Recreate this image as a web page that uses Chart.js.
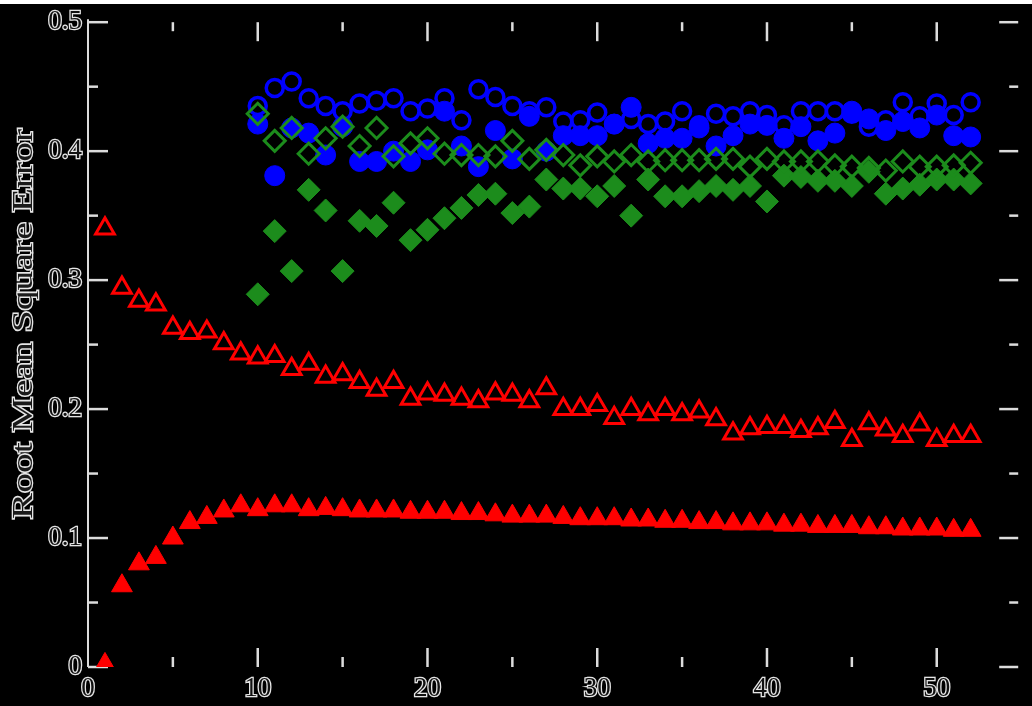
<!DOCTYPE html>
<html><head><meta charset="utf-8">
<script src="https://cdn.jsdelivr.net/npm/chart.js@4"></script>
<style>html,body{margin:0;padding:0;background:#000;overflow:hidden}</style>
</head><body>
<canvas id="c" width="1032" height="706" style="display:block;width:1032px;height:706px"></canvas>
<script>
// ---------- data ----------
const xAll = [1,2,3,4,5,6,7,8,9,10,11,12,13,14,15,16,17,18,19,20,21,22,23,24,25,26,27,28,29,30,31,32,33,34,35,36,37,38,39,40,41,42,43,44,45,46,47,48,49,50,51,52];
const xLate = [10,11,12,13,14,15,16,17,18,19,20,21,22,23,24,25,26,27,28,29,30,31,32,33,34,35,36,37,38,39,40,41,42,43,44,45,46,47,48,49,50,51,52];

const redOpen = [0.340,0.294,0.284,0.281,0.263,0.259,0.260,0.251,0.243,0.240,0.241,0.231,0.235,0.225,0.227,0.221,0.215,0.221,0.208,0.212,0.211,0.208,0.206,0.212,0.211,0.206,0.216,0.200,0.200,0.203,0.193,0.200,0.196,0.200,0.196,0.198,0.192,0.181,0.185,0.186,0.186,0.183,0.185,0.190,0.176,0.189,0.184,0.179,0.188,0.176,0.179,0.179];
const redFilled = [0.002,0.063,0.080,0.085,0.100,0.112,0.116,0.121,0.125,0.122,0.125,0.125,0.122,0.123,0.122,0.121,0.121,0.121,0.120,0.120,0.120,0.119,0.119,0.118,0.117,0.117,0.117,0.116,0.115,0.115,0.115,0.114,0.114,0.113,0.113,0.112,0.112,0.111,0.111,0.111,0.110,0.110,0.109,0.109,0.109,0.108,0.108,0.107,0.107,0.107,0.106,0.106];
const blueOpen = [0.435,0.449,0.454,0.441,0.435,0.431,0.437,0.439,0.441,0.431,0.433,0.441,0.424,0.448,0.442,0.435,0.431,0.434,0.423,0.424,0.430,0.421,0.425,0.421,0.423,0.431,0.420,0.429,0.427,0.431,0.428,0.420,0.431,0.431,0.431,0.429,0.419,0.424,0.438,0.427,0.437,0.428,0.438];
const blueFilled = [0.421,0.381,0.418,0.414,0.397,0.419,0.392,0.392,0.400,0.392,0.401,0.431,0.404,0.388,0.416,0.394,0.427,0.400,0.412,0.412,0.412,0.421,0.434,0.406,0.410,0.410,0.418,0.404,0.412,0.421,0.420,0.410,0.419,0.408,0.414,0.431,0.425,0.416,0.423,0.418,0.428,0.412,0.411];
const greenOpen = [0.429,0.408,0.418,0.398,0.410,0.419,0.404,0.418,0.396,0.406,0.410,0.398,0.397,0.397,0.396,0.408,0.394,0.401,0.397,0.389,0.396,0.392,0.397,0.392,0.393,0.393,0.393,0.394,0.394,0.388,0.394,0.392,0.392,0.392,0.389,0.388,0.387,0.385,0.392,0.388,0.388,0.389,0.391];
const greenFilled = [0.289,0.338,0.307,0.370,0.354,0.307,0.346,0.342,0.360,0.331,0.339,0.348,0.356,0.366,0.367,0.352,0.357,0.378,0.371,0.371,0.365,0.373,0.350,0.378,0.365,0.365,0.369,0.373,0.370,0.373,0.361,0.381,0.380,0.377,0.377,0.373,0.384,0.367,0.371,0.374,0.378,0.378,0.375];

const yTitle = 'Root Mean Square Error';
const xTickValues = [0,10,20,30,40,50];
const xTickLabels = ['0','10','20','30','40','50'];
const xMinorTickValues = [5,15,25,35,45];
const yTickValues = [0,0.1,0.2,0.3,0.4,0.5];
const yTickLabels = ['0','0.1','0.2','0.3','0.4','0.5'];
const yMinorTickValues = [0.05,0.15,0.25,0.35,0.45];

// ---------- helpers ----------
const pts = (xs, ys) => xs.map((x, i) => ({x: x, y: ys[i]}));
const tickFont = {family: 'Liberation Serif', size: 27};
const AXIS_COL = '#dcdcdc';

const framePlugin = {
  id: 'frame',
  beforeDraw(chart) {
    const ctx = chart.ctx;
    ctx.save();
    ctx.fillStyle = '#000';
    ctx.fillRect(0, 0, chart.width, chart.height);
    ctx.fillStyle = '#fff';
    ctx.fillRect(0, 0, chart.width, 4);
    ctx.restore();
  },
  beforeDatasetsDraw(chart) {
    const ctx = chart.ctx;
    const a = chart.chartArea;
    const xs = chart.scales.x, ys = chart.scales.y;
    ctx.save();
    ctx.strokeStyle = AXIS_COL;
    ctx.lineWidth = 2;
    ctx.beginPath();
    ctx.moveTo(a.left, a.top - 3);
    ctx.lineTo(a.left, a.bottom);
    ctx.stroke();
    ctx.lineWidth = 2.5;
    const seg = (x1, y1, x2, y2) => { ctx.beginPath(); ctx.moveTo(x1, y1); ctx.lineTo(x2, y2); ctx.stroke(); };
    yTickValues.forEach(v => { const p = ys.getPixelForValue(v); seg(a.left, p, a.left + 20, p); seg(a.right - 19, p, a.right, p); });
    yMinorTickValues.forEach(v => { const p = ys.getPixelForValue(v); seg(a.left, p, a.left + 10, p); seg(a.right - 9, p, a.right, p); });
    xTickValues.forEach(v => { if (v === 0) return; const p = xs.getPixelForValue(v); seg(p, a.bottom, p, a.bottom - 19); seg(p, a.top, p, a.top + 19); });
    xMinorTickValues.forEach(v => { const p = xs.getPixelForValue(v); seg(p, a.bottom, p, a.bottom - 10); seg(p, a.top, p, a.top + 9); });
    ctx.restore();
  },
  afterDraw(chart) {
    const ctx = chart.ctx;
    const a = chart.chartArea;
    ctx.save();
    ctx.translate(24, 324);
    ctx.rotate(-Math.PI / 2);
    ctx.scale(1.32, 1);
    ctx.font = '30px "Liberation Serif"';
    ctx.textAlign = 'center';
    ctx.textBaseline = 'middle';
    ctx.lineWidth = 2.5;
    ctx.strokeStyle = '#e6e6e6';
    ctx.strokeText(yTitle, 0, 0);
    ctx.fillStyle = '#1a1a1a';
    ctx.fillText(yTitle, 0, 0);
    ctx.restore();
  }
};

new Chart(document.getElementById('c'), {
  type: 'scatter',
  data: {
    datasets: [
      {label: 'open triangles', data: pts(xAll, redOpen), pointStyle: 'triangle', pointRadius: 10.8, pointBorderWidth: 3, pointBackgroundColor: 'rgba(0,0,0,0)', pointBorderColor: '#ff0000', order: 6},
      {label: 'filled triangles', data: pts(xAll, redFilled), pointStyle: 'triangle', pointRadius: 12, pointBorderWidth: 1, pointBackgroundColor: '#ff0000', pointBorderColor: '#ff0000', order: 5},
      {label: 'open circles', data: pts(xLate, blueOpen), pointStyle: 'circle', pointRadius: 8.5, pointBorderWidth: 3.5, pointBackgroundColor: 'rgba(0,0,0,0)', pointBorderColor: '#0000ff', order: 4},
      {label: 'filled circles', data: pts(xLate, blueFilled), pointStyle: 'circle', pointRadius: 10, pointBorderWidth: 1, pointBackgroundColor: '#0000ff', pointBorderColor: '#0000ff', order: 3},
      {label: 'filled diamonds', data: pts(xLate, greenFilled), pointStyle: 'rectRot', pointRadius: 11.5, pointBorderWidth: 1, pointBackgroundColor: '#1c8c1c', pointBorderColor: '#1c8c1c', order: 2},
      {label: 'open diamonds', data: pts(xLate, greenOpen), pointStyle: 'rectRot', pointRadius: 10.5, pointBorderWidth: 3, pointBackgroundColor: 'rgba(0,0,0,0)', pointBorderColor: '#1c8c1c', order: 1}
    ]
  },
  options: {
    responsive: false,
    animation: false,
    devicePixelRatio: 1,
    layout: {padding: {top: 18, right: 10, left: 0, bottom: 0}},
    plugins: {legend: {display: false}, tooltip: {enabled: false}, title: {display: false}},
    scales: {
      x: {
        type: 'linear', min: 0, max: 54.8,
        afterBuildTicks: s => { s.ticks = xTickValues.map(v => ({value: v})); },
        afterFit: s => { s.height = 39; },
        grid: {display: false, drawTicks: false},
        border: {display: false},
        ticks: {autoSkip: false, maxRotation: 0, padding: 6, font: tickFont, color: '#111', textStrokeColor: '#e6e6e6', textStrokeWidth: 2.5,
          callback: v => xTickLabels[xTickValues.indexOf(v)]}
      },
      y: {
        type: 'linear', min: 0, max: 0.5,
        afterBuildTicks: s => { s.ticks = yTickValues.map(v => ({value: v})); },
        afterFit: s => { s.width = 88; },
        grid: {display: false, drawTicks: false},
        border: {display: false},
        ticks: {autoSkip: false, padding: 6, font: tickFont, color: '#111', textStrokeColor: '#e6e6e6', textStrokeWidth: 2.5,
          callback: v => yTickLabels[yTickValues.indexOf(v)]}
      }
    }
  },
  plugins: [framePlugin]
});
</script>
</body></html>
